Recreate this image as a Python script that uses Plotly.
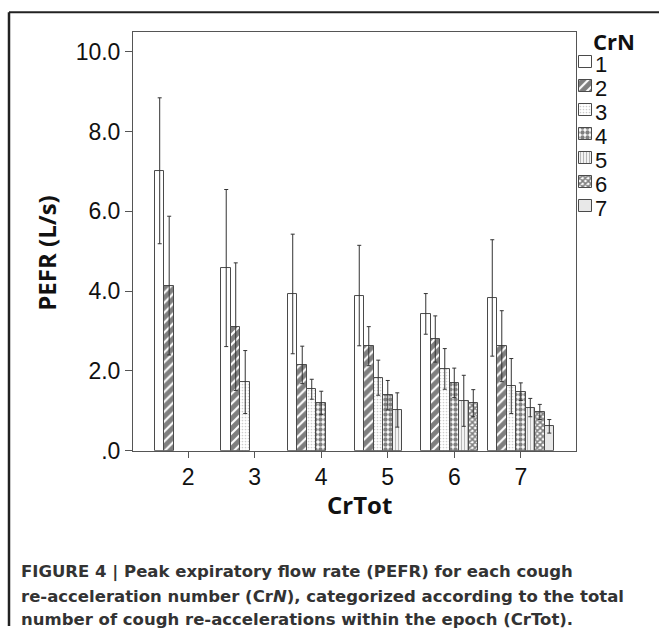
import plotly.graph_objects as go

categories = ["2", "3", "4", "5", "6", "7"]
crn_labels = ["1", "2", "3", "4", "5", "6", "7"]

crn1 = [7.02, 4.58, 3.93, 3.89, 3.43, 3.83]
crn1_err = [1.83, 1.97, 1.50, 1.26, 0.51, 1.46]
crn2 = [4.14, 3.11, 2.15, 2.62, 2.80, 2.62]
crn2_err = [1.74, 1.60, 0.47, 0.49, 0.58, 0.89]
crn3 = [None, 1.72, 1.54, 1.83, 2.05, 1.62]
crn3_err = [None, 0.79, 0.25, 0.44, 0.51, 0.69]
crn4 = [None, None, 1.20, 1.39, 1.70, 1.48]
crn4_err = [None, None, 0.29, 0.37, 0.37, 0.22]
crn5 = [None, None, None, 1.02, 1.25, 1.08]
crn5_err = [None, None, None, 0.43, 0.64, 0.23]
crn6 = [None, None, None, None, 1.19, 0.97]
crn6_err = [None, None, None, None, 0.34, 0.19]
crn7 = [None, None, None, None, None, 0.61]
crn7_err = [None, None, None, None, None, 0.17]

y_tickvals = [0, 2, 4, 6, 8, 10]
y_ticktext = [".0", "2.0", "4.0", "6.0", "8.0", "10.0"]

caption_lines = [
    "<b>FIGURE 4 | Peak expiratory flow rate (PEFR) for each cough</b>",
    "<b>re-acceleration number (Cr<i>N</i>), categorized according to the total</b>",
    "<b>number of cough re-accelerations within the epoch (CrTot).</b>",
]

series = [crn1, crn2, crn3, crn4, crn5, crn6, crn7]
errors = [crn1_err, crn2_err, crn3_err, crn4_err, crn5_err, crn6_err, crn7_err]

pat_shape = ["", "/", ".", ".", "|", "x", "."]
pat_fg = ["#000000", "#000000", "#9a9a9a", "#000000", "#707070", "#000000", "#8a8a8a"]
pat_size = [6, 7, 3, 5, 3, 4, 2]
pat_sol = [0.3, 0.7, 0.25, 0.6, 0.45, 0.65, 0.45]

# page geometry in pixels (graph pinned to the top-left corner below)
W, H = 659, 639
PL, PR, PT, PB = 133, 576, 32.7, 460


def fx(xp):
    return xp / W


def fy(yp):
    return 1 - yp / H


fig = go.Figure()
for i, (vals, errs) in enumerate(zip(series, errors)):
    fig.add_trace(go.Bar(
        name=crn_labels[i],
        x=categories,
        y=vals,
        showlegend=False,
        error_y=dict(type="data", array=[e if e is not None else 0 for e in errs],
                     visible=True, color="#333333", thickness=1, width=2),
        marker=dict(color="white", line=dict(color="#4a4a4a", width=1),
                    pattern=dict(shape=pat_shape[i], fgcolor=pat_fg[i], bgcolor="white",
                                 size=pat_size[i], solidity=pat_sol[i])),
        xaxis="x", yaxis="y",
    ))

# manual legend swatches on a page-pixel overlay axis
leg_label_y = [66 + 24.5 * k for k in range(len(crn_labels))]
sw = 12.5
fig.add_trace(go.Bar(
    x=[585.5] * len(crn_labels),
    y=[sw] * len(crn_labels),
    base=[yy - 2.5 - sw / 2 for yy in leg_label_y],
    width=13,
    showlegend=False,
    hoverinfo="skip",
    marker=dict(color="white", line=dict(color="#4a4a4a", width=1),
                pattern=dict(shape=pat_shape, fgcolor=pat_fg, bgcolor="white",
                             size=pat_size, solidity=pat_sol)),
    xaxis="x2", yaxis="y2",
))

annotations = [
    dict(text=lab, xref="x2", yref="y2", x=593, y=yy, showarrow=False,
         xanchor="left", yanchor="middle",
         font=dict(size=22, family="Liberation Sans, Arial, sans-serif", color="#111111"))
    for lab, yy in zip(crn_labels, leg_label_y)
]
annotations += [
    dict(text="<b>CrN</b>", xref="x2", yref="y2", x=614, y=42, showarrow=False,
         xanchor="center", yanchor="middle",
         font=dict(size=22, family="Open Sans, sans-serif", color="#111111")),
    dict(text="<b>CrTot</b>", xref="x2", yref="y2", x=359.5, y=515, showarrow=False,
         xanchor="center", yanchor="middle",
         font=dict(size=24, family="Open Sans, sans-serif", color="#111111")),
    dict(text="<b>PEFR (L/s)</b>", xref="x2", yref="y2", x=47, y=259, showarrow=False,
         textangle=-90, xanchor="center", yanchor="middle",
         font=dict(size=24, family="Open Sans, sans-serif", color="#111111")),
]
for line, yy in zip(caption_lines, [584, 608.5, 632]):
    annotations.append(dict(
        text=line, xref="x2", yref="y2", x=19, y=yy, showarrow=False,
        xanchor="left", yanchor="middle",
        font=dict(size=16.5, family="DejaVu Sans, sans-serif", color="#333333")))

fig.update_layout(
    width=W, height=H,
    margin=dict(l=0, r=0, t=0, b=0, pad=0),
    paper_bgcolor="white", plot_bgcolor="rgba(0,0,0,0)",
    barmode="group", bargap=0, bargroupgap=0,
    font=dict(family="Liberation Sans, Arial, sans-serif", color="#111111"),
    showlegend=False,
    xaxis=dict(
        domain=[fx(PL), fx(PR)], anchor="y",
        type="category", range=[-0.83, 5.83],
        showline=True, linecolor="#555555", linewidth=1, mirror=True,
        ticks="outside", ticklen=6, tickcolor="#555555",
        tickfont=dict(size=23), showgrid=False, zeroline=False,
    ),
    yaxis=dict(
        domain=[fy(PB), fy(PT)], anchor="x",
        range=[0, 10.5], tickvals=y_tickvals, ticktext=y_ticktext,
        showline=True, linecolor="#555555", linewidth=1, mirror=True,
        ticks="outside", ticklen=7, tickcolor="#555555",
        tickfont=dict(size=23), showgrid=False, zeroline=False,
    ),
    xaxis2=dict(domain=[0, 1], anchor="y2", range=[0, W], visible=False, fixedrange=True),
    yaxis2=dict(domain=[0, 1], anchor="x2", range=[H, 0], visible=False, fixedrange=True),
    shapes=[
        dict(type="line", xref="x2", yref="y2", x0=9, x1=W, y0=12.5, y1=12.5,
             line=dict(color="#222222", width=2)),
        dict(type="line", xref="x2", yref="y2", x0=9, x1=9, y0=12.5, y1=H,
             line=dict(color="#222222", width=2.5)),
    ],
    annotations=annotations,
)

fig.write_html(
    "out.html",
    config={"displayModeBar": False},
    post_script=(
        "document.documentElement.style.margin='0';"
        "document.documentElement.style.overflow='hidden';"
        "document.body.style.margin='0';"
        "document.body.style.overflow='hidden';"
        "var gd=document.getElementById('{plot_id}');"
        "gd.style.position='fixed';gd.style.top='0px';gd.style.left='0px';"
    ),
)
